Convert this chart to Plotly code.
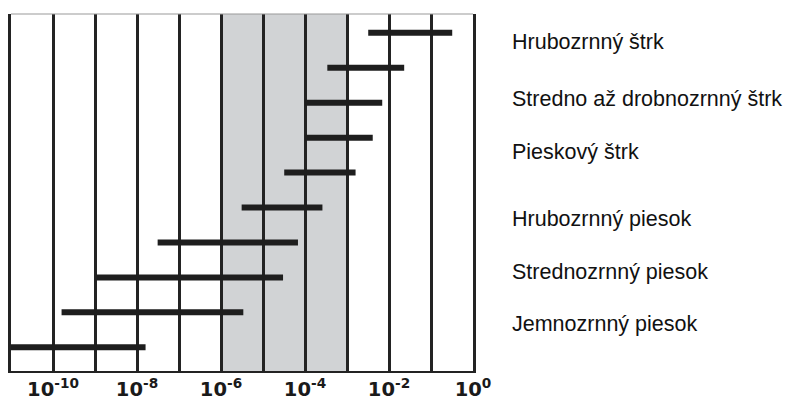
import plotly.graph_objects as go

# ---- data ----
# each horizontal bar: range of values (lower, upper), listed top to bottom
bar_low = [3.2e-3, 3.4e-4, 1.0e-4, 1.0e-4, 3.2e-5, 3.1e-6, 3.1e-8, 1.1e-9, 1.6e-10, 1.0e-11]
bar_high = [3.2e-1, 2.3e-2, 6.9e-3, 4.1e-3, 1.6e-3, 2.6e-4, 6.8e-5, 3.0e-5, 3.4e-6, 1.6e-8]

# soil class labels on the right, top to bottom
soil_labels = [
    "Hrubozrnný štrk",
    "Stredno až drobnozrnný štrk",
    "Pieskový štrk",
    "Hrubozrnný piesok",
    "Strednozrnný piesok",
    "Jemnozrnný piesok",
]

# x axis: labelled decades and unlabelled decades (grid only)
tick_vals = [1e-10, 1e-8, 1e-6, 1e-4, 1e-2, 1e0]
tick_text = ["10<sup>-10</sup>", "10<sup>-8</sup>", "10<sup>-6</sup>",
             "10<sup>-4</sup>", "10<sup>-2</sup>", "10<sup>0</sup>"]
minor_vals = [1e-9, 1e-7, 1e-5, 1e-3, 1e-1]

# shaded band
band = [1e-6, 1e-3]

# ---- figure ----
n = len(bar_low)
bar_rows = [n - 1 - i for i in range(n)]  # top bar has highest row index

xs, ys = [], []
for lo, hi, r in zip(bar_low, bar_high, bar_rows):
    xs += [lo, hi, None]
    ys += [r, r, None]

fig = go.Figure()
fig.add_trace(go.Scatter(x=xs, y=ys, mode="lines",
                         line=dict(color="#1e1e1e", width=6),
                         hoverinfo="skip", showlegend=False))

fig.add_shape(type="rect", xref="x", yref="paper", x0=band[0], x1=band[1], y0=0, y1=1,
              fillcolor="#d1d3d5", line=dict(width=0), layer="below")
# thin top border
fig.add_shape(type="line", xref="paper", yref="paper", x0=0, x1=1, y0=1, y1=1,
              line=dict(color="#9a9a9a", width=1.2))

label_rows = [8.74, 7.10, 5.58, 3.67, 2.15, 0.66]
for txt, r in zip(soil_labels, label_rows):
    fig.add_annotation(text=txt, xref="paper", yref="y", x=1.080, y=r,
                       xanchor="left", yanchor="middle", showarrow=False,
                       font=dict(family="Liberation Sans, Arial, sans-serif", size=21.5, color="#111"))

fig.update_xaxes(type="log", range=[-11, 0],
                 tickvals=tick_vals, ticktext=tick_text,
                 showgrid=True, gridcolor="#232323", gridwidth=2.5,
                 minor=dict(tickvals=minor_vals, showgrid=True, gridcolor="#232323",
                            gridwidth=2.5, ticks=""),
                 showline=True, linecolor="#232323", linewidth=2, mirror=False,
                 ticks="", zeroline=False, automargin=False,
                 tickfont=dict(family="DejaVu Sans", size=19.5, color="#1a1a1a", weight="bold"))
fig.update_yaxes(range=[-0.68, 9.54], showgrid=False, zeroline=False,
                 showticklabels=False, ticks="", automargin=False,
                 showline=True, linecolor="#232323", linewidth=2.5, mirror=True)

fig.update_layout(width=788, height=401,
                  margin=dict(l=11, r=315, t=14, b=30),
                  paper_bgcolor="white", plot_bgcolor="white")

fig.write_html("out.html", config={"displayModeBar": False},
               post_script="document.body.style.margin='0';")
